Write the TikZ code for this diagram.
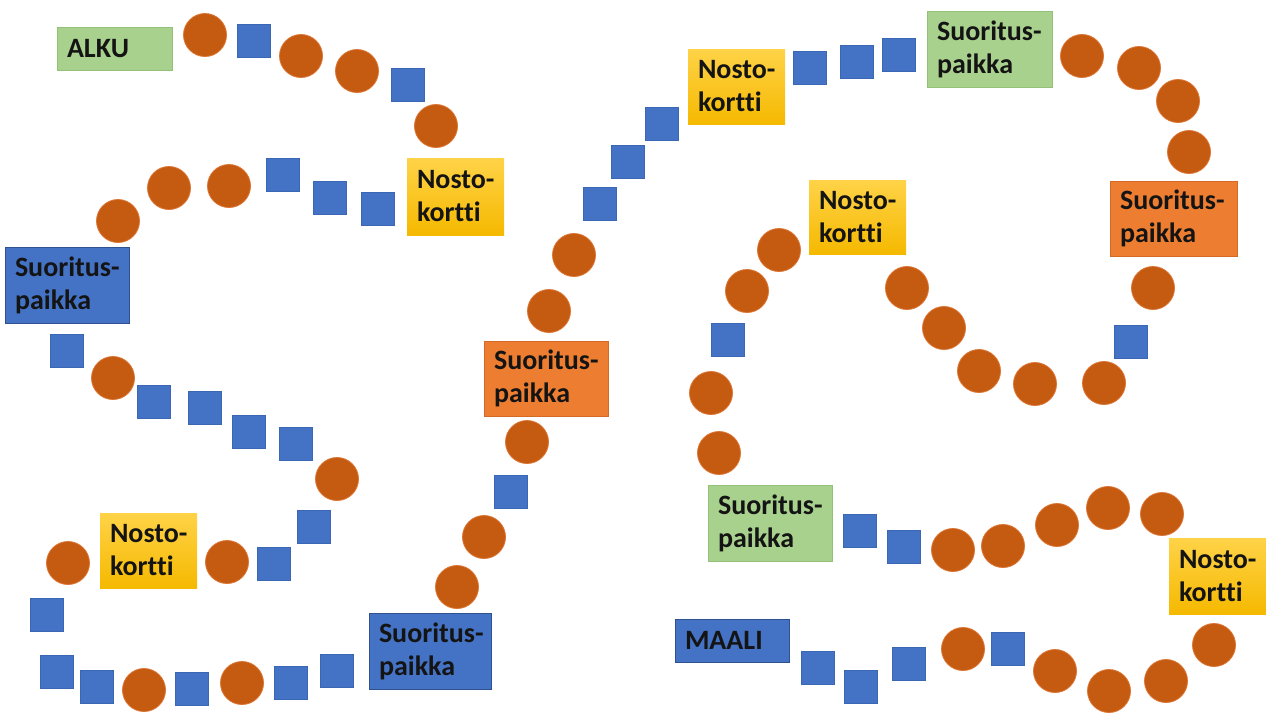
\documentclass[tikz,border=0pt]{standalone}
\usepackage{fontspec}
\setmainfont{Carlito}[Ligatures=NoCommon]

\definecolor{stonefill}{HTML}{C55A11}
\definecolor{stoneedge}{HTML}{DC7433}
\definecolor{tilefill}{HTML}{4472C4}
\definecolor{tileedge}{HTML}{3B66B3}
\definecolor{greenfill}{HTML}{A9D18E}
\definecolor{greenedge}{HTML}{93C177}
\definecolor{orangefill}{HTML}{ED7D31}
\definecolor{orangeedge}{HTML}{D46A26}
\definecolor{bluecardedge}{HTML}{2F528F}
\definecolor{goldtop}{HTML}{FFD348}
\definecolor{goldbottom}{HTML}{F5B900}
\definecolor{inktext}{HTML}{141414}

% two unbreakable lines of a card label
\newcommand\cardtext[2]{\mbox{#1}\\\mbox{#2}}

\tikzset{
  stone/.style={circle, fill=stonefill, draw=stoneedge, line width=0.8pt,
    minimum size=43pt, inner sep=0pt},
  tile/.style={rectangle, fill=tilefill, draw=tileedge, line width=0.6pt,
    minimum size=33pt, inner sep=0pt},
  card/.style={rectangle, inner xsep=0pt, inner ysep=0pt, align=left,
    font=\fontsize{28}{33}\selectfont\bfseries, text=inktext},
  greencard/.style={card, fill=greenfill, draw=greenedge, line width=1pt},
  bluecard/.style={card, fill=tilefill, draw=bluecardedge, line width=0.8pt},
  orangecard/.style={card, fill=orangefill, draw=orangeedge, line width=0.8pt},
  goldcard/.style={card, top color=goldtop, bottom color=goldbottom, draw=none},
}

\begin{document}
\begin{tikzpicture}[x=1pt, y=-1pt]
  \useasboundingbox (0,0) rectangle (1266,713);

  % labelled squares of the track
  \node[greencard, minimum width=115pt, minimum height=43pt, text width=95pt] (alku) at (114.5,48.5) {ALKU};
  \node[goldcard, minimum width=97pt, minimum height=77pt, text width=77pt] (nosto1) at (455.5,196.5) {\cardtext{Nosto-}{kortti}};
  \node[bluecard, minimum width=124pt, minimum height=76pt, text width=104pt] (paikka1) at (67,285) {\cardtext{Suoritus-}{paikka}};
  \node[goldcard, minimum width=97pt, minimum height=75pt, text width=77pt] (nosto2) at (148.5,550.5) {\cardtext{Nosto-}{kortti}};
  \node[bluecard, minimum width=122pt, minimum height=76pt, text width=102pt] (paikka2) at (430,651) {\cardtext{Suoritus-}{paikka}};
  \node[orangecard, minimum width=124pt, minimum height=75pt, text width=104pt] (paikka3) at (546,378.5) {\cardtext{Suoritus-}{paikka}};
  \node[goldcard, minimum width=97pt, minimum height=75pt, text width=77pt] (nosto3) at (736.5,86.5) {\cardtext{Nosto-}{kortti}};
  \node[greencard, minimum width=125pt, minimum height=76pt, text width=105pt] (paikka4) at (989.5,49) {\cardtext{Suoritus-}{paikka}};
  \node[goldcard, minimum width=97pt, minimum height=74pt, text width=77pt] (nosto4) at (857.5,217) {\cardtext{Nosto-}{kortti}};
  \node[orangecard, minimum width=127pt, minimum height=75pt, text width=107pt] (paikka5) at (1173.5,218.5) {\cardtext{Suoritus-}{paikka}};
  \node[greencard, minimum width=124pt, minimum height=76pt, text width=104pt] (paikka6) at (770,523) {\cardtext{Suoritus-}{paikka}};
  \node[goldcard, minimum width=97pt, minimum height=76pt, text width=77pt] (nosto5) at (1217.5,576) {\cardtext{Nosto-}{kortti}};
  \node[bluecard, minimum width=114pt, minimum height=43pt, text width=94pt] (maali) at (732,640.5) {MAALI};

  % round steps
  \foreach \px/\py [count=\i] in {
      205/35, 301/56, 357/71, 436/126, 118/221, 169/188, 229/186,
      113/378, 337/479, 68/563, 227/562, 144/690, 242/683, 457/587,
      484/537, 527/442, 549/311, 574/255, 779/250, 747/291, 711/393,
      719/453, 1082/56, 1139/68, 1178/101, 1189/152, 1153/288, 1104/383,
      1035/384, 979/371, 944/328, 907/288, 953/550, 1003/546, 1057/525,
      1108/508, 1162/514, 1214/645, 1166/681, 1109/691, 1055/671, 963/649}
    \node[stone] (stone\i) at (\px,\py) {};

  % square steps
  \foreach \px/\py [count=\i] in {
      254/41, 408/85, 283/175, 330/198, 378/209, 67/351, 154/402,
      205/408, 249/432, 296/444, 314/527, 274/564, 47/615, 57/672,
      97/687, 192/689, 291/683, 337/671, 511/492, 600/204, 628/162,
      662/124, 810/68, 857/62, 899/55, 728/340, 1131/342, 860/531,
      904/547, 818/668, 861/687, 909/664, 1008/649}
    \node[tile] (tile\i) at (\px,\py) {};
\end{tikzpicture}
\end{document}
